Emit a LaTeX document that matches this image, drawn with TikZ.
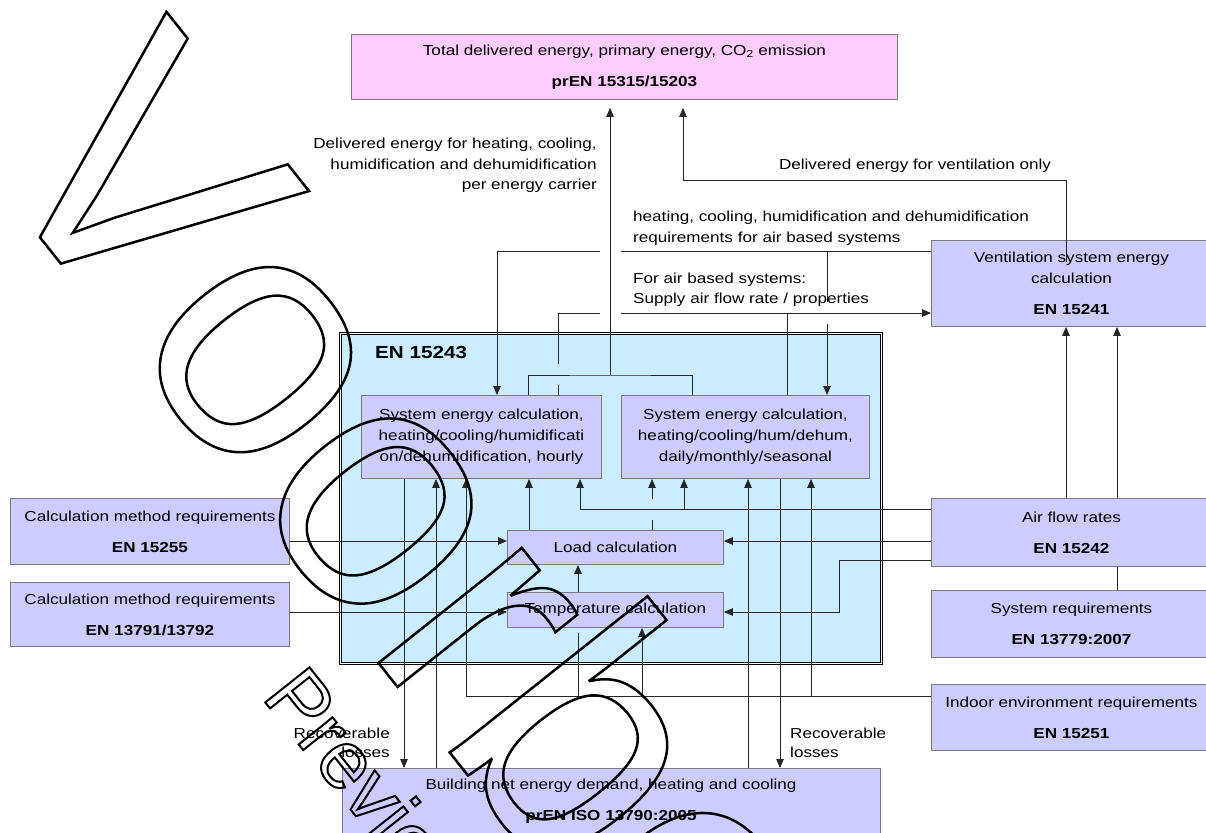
\documentclass[tikz,border=0pt]{standalone}
\usepackage{fontspec}
\setmainfont{Liberation Sans}[FakeStretch=1.18]
\newfontfamily\wmfont{Liberation Sans}[Kerning=Off]
\usetikzlibrary{arrows.meta}
\definecolor{lav}{HTML}{CCCCFF}
\definecolor{pinkbox}{HTML}{FFCCFF}
\definecolor{skyb}{HTML}{CCECFF}
\definecolor{bord}{HTML}{7A7A7A}
\definecolor{ln}{HTML}{262626}
\newcommand{\wmtext}[2]{\special{pdf:literal direct 1 Tr #1 w}#2\special{pdf:literal direct 0 Tr}}
\tikzset{
  box/.style={draw=bord, fill=lav, line width=0.9pt, inner sep=0pt, align=center, anchor=north west},
  conn/.style={draw=ln, line width=0.85pt},
  arr/.style={conn, -{Triangle[length=9pt,width=7.5pt]}},
  lbl/.style={inner sep=0pt},
}
\begin{document}
\begin{tikzpicture}[x=1pt,y=-1pt,font=\fontsize{14.5}{21}\selectfont]
\useasboundingbox (0,0) rectangle (1206,832);
\clip (0,0) rectangle (1206,832);
\fill[white] (0,0) rectangle (1206,832);

% EN 15243 container
\node[draw=black, line width=1pt, double=white, double distance=1.6pt, fill=skyb, inner sep=0pt,
      minimum width=541pt, minimum height=330pt, anchor=north west] (en) at (340,333) {};
\node[lbl, anchor=west, font=\fontsize{17.5}{21}\selectfont\bfseries] (entitle) at (375,352) {EN 15243};

% boxes
\node[box, fill=pinkbox, minimum width=546pt, minimum height=65pt] (pink) at (351,34)
  {Total delivered energy, primary energy, CO\textsubscript{2} emission\\[10pt]\textbf{prEN 15315/15203}};
\node[box, minimum width=280pt, minimum height=86pt] (vent) at (931,240)
  {Ventilation system energy\\calculation\\[10pt]\textbf{EN 15241}};
\node[box, minimum width=280pt, minimum height=68pt] (air) at (931,498)
  {Air flow rates\\[10pt]\textbf{EN 15242}};
\node[box, minimum width=280pt, minimum height=67pt] (sysreq) at (931,590)
  {System requirements\\[10pt]\textbf{EN 13779:2007}};
\node[box, minimum width=280pt, minimum height=66pt] (indoor) at (931,684)
  {Indoor environment requirements\\[10pt]\textbf{EN 15251}};
\node[box, minimum width=279pt, minimum height=66pt] (calc1) at (10,498)
  {Calculation method requirements\\[10pt]\textbf{EN 15255}};
\node[box, minimum width=279pt, minimum height=64pt] (calc2) at (10,582)
  {Calculation method requirements\\[10pt]\textbf{EN 13791/13792}};
\node[box, minimum width=240pt, minimum height=83pt] (hourly) at (361,395)
  {System energy calculation,\\heating/cooling/humidificati\\on/dehumidification, hourly};
\node[box, minimum width=248pt, minimum height=83pt] (daily) at (621,395)
  {System energy calculation,\\heating/cooling/hum/dehum,\\daily/monthly/seasonal};
\node[box, minimum width=216pt, minimum height=34pt] (load) at (507,530) {Load calculation};
\node[box, minimum width=216pt, minimum height=35pt] (temp) at (507,592) {Temperature calculation};
\node[box, minimum width=538pt, minimum height=100pt] (bnet) at (342,768) {};
\node[lbl, align=center] (bnettxt) at (611,801)
  {Building net energy demand, heating and cooling\\[10pt]\textbf{prEN ISO 13790:2005}};

% labels
\node[lbl, anchor=north east, align=right, font=\fontsize{14.5}{20.5}\selectfont] (l1) at (597,138)
  {Delivered energy for heating, cooling,\\humidification and dehumidification\\per energy carrier};
\node[lbl] (l2) at (915,166) {Delivered energy for ventilation only};
\node[lbl, anchor=west, align=left] (l3) at (633,228)
  {heating, cooling, humidification and dehumidification\\requirements for air based systems};
\node[lbl, anchor=west, align=left, font=\fontsize{14.5}{20}\selectfont] (l4) at (633,290)
  {For air based systems:\\Supply air flow rate / properties};
\node[lbl, anchor=east, align=right, font=\fontsize{14.5}{19}\selectfont] (l5) at (390,742.5) {Recoverable\\losses};
\node[lbl, anchor=west, align=left, font=\fontsize{14.5}{19}\selectfont] (l6) at (790,742.5) {Recoverable\\losses};

% connectors to the top box
\draw[conn] (hourly.north -| 528,0) |- (610,375) -| (daily.north -| 692,0);
\draw[arr, shorten >=8pt] (610,375) -- (610,0 |- pink.south);
\draw[arr, shorten >=8pt] (vent.north -| 1066,0) ++(0,22) |- (683,180) -- (683,0 |- pink.south);

% requirements for air based systems
\draw[conn] (vent.west |- 0,251) -- (621,251);
\draw[arr] (600,251) -| (hourly.north -| 497,0);
\draw[conn] (827,251) -- (827,302);
\draw[arr] (827,324) -- (daily.north -| 827,0);

% supply air flow rate
\draw[conn] (hourly.north -| 558,0) -- (558,385);
\draw[conn] (558,364) |- (600,313);
\draw[arr] (621,313) -- (vent.west |- 0,313);
\draw[conn] (daily.north -| 787,0) -- (787,313);

% air flow rates
\draw[arr] (air.north -| 1066,0) -- (vent.south -| 1066,0);
\draw[arr] (air.north -| 1117,0) -- (vent.south -| 1117,0);
\draw[conn] (air.south -| 1117,0) -- (sysreq.north -| 1117,0);
\draw[arr] (air.west |- 0,541) -- (load.east |- 0,541);
\draw[arr] (air.west |- 0,509) -| (hourly.south -| 580,0);
\draw[arr] (684,509) -- (daily.south -| 684,0);
\draw[arr] (air.west |- 0,560) -| (839,612) -- (temp.east |- 0,612);

% calculation method
\draw[arr] (calc1.east |- 0,541) -- (load.west |- 0,541);
\draw[arr] (calc2.east |- 0,612) -- (temp.west |- 0,612);

% load and temperature
\draw[arr] (load.north -| 529,0) -- (hourly.south -| 529,0);
\draw[conn] (load.north -| 652,0) -- (652,520);
\draw[arr] (652,499) -- (daily.south -| 652,0);
\draw[arr] (temp.north -| 578,0) -- (load.south -| 578,0);

% indoor environment
\draw[conn] (indoor.west |- 0,696) -- (466,696);
\draw[arr] (466,696) -- (hourly.south -| 466,0);
\draw[conn] (578,696) -- (578,633);
\draw[arr] (642,696) -- (temp.south -| 642,0);
\draw[arr] (811,696) -- (daily.south -| 811,0);

% building net energy
\draw[arr] (hourly.south -| 404,0) -- (bnet.north -| 404,0);
\draw[arr] (bnet.north -| 436,0) -- (hourly.south -| 436,0);
\draw[arr] (bnet.north -| 748,0) -- (daily.south -| 748,0);
\draw[arr] (daily.south -| 780,0) -- (bnet.north -| 780,0);

% watermark
\node[inner sep=0pt, anchor=base west, rotate=-51.5, font=\wmfont\fontsize{348}{348}\selectfont] (wm1) at (-22,159.5)
  {\wmtext{2.5}{Voorbeeld}};
\node[inner sep=0pt, anchor=base west, rotate=-51.5, font=\wmfont\fontsize{82}{82}\selectfont] (wm2) at (261,697)
  {\wmtext{2}{Preview}};
\end{tikzpicture}
\end{document}
